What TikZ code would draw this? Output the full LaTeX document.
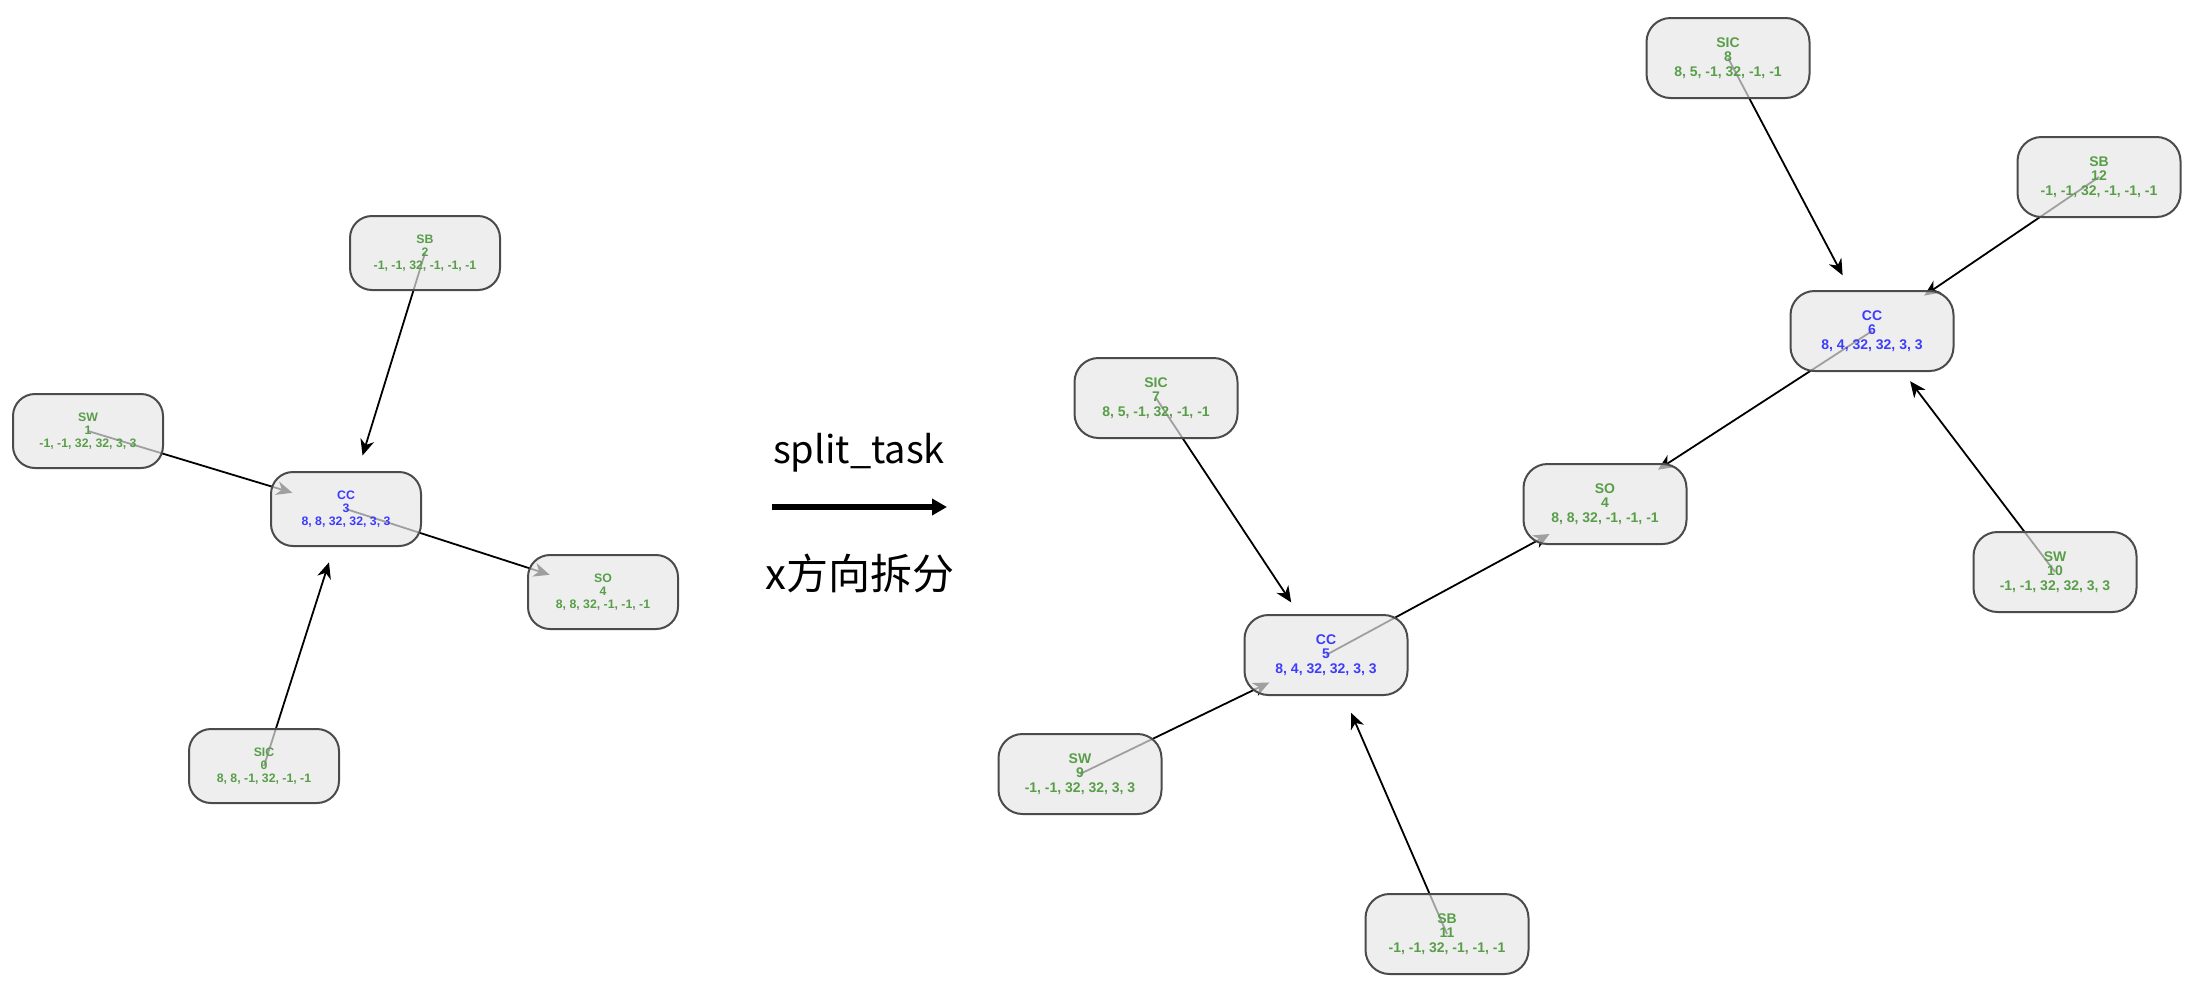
\documentclass[tikz,border=0pt]{standalone}
\usepackage{fontspec}
\setmainfont{Liberation Sans}
\newfontfamily\cjk{Noto Sans CJK SC}
\usetikzlibrary{arrows.meta}

\definecolor{boxfill}{RGB}{231,231,231}
\definecolor{boxline}{RGB}{75,75,75}
\definecolor{opgreen}{RGB}{88,158,72}
\definecolor{opblue}{RGB}{60,60,255}

\pgfdeclarelayer{edges}
\pgfsetlayers{edges,main}

\tikzset{
  opbox/.style={draw=boxline, line width=2pt, fill=boxfill, fill opacity=0.69,
    text opacity=1, align=center, inner sep=0pt},
  smallbox/.style={opbox, minimum width=150pt, minimum height=74pt,
    rounded corners=22pt, font=\bfseries\fontsize{12.3pt}{12.8pt}\selectfont},
  bigbox/.style={opbox, minimum width=163pt, minimum height=80pt,
    rounded corners=24pt, font=\bfseries\fontsize{14pt}{14.2pt}\selectfont},
  sideop/.style={text=opgreen},
  coreop/.style={text=opblue},
  link/.style={draw=black, line width=1.8pt,
    -{Stealth[length=16pt, width=14pt, inset=5pt]}},
  smalllink/.style={link, shorten >=56pt},
  biglink/.style={link, shorten >=63pt},
  caption/.style={font=\cjk, inner sep=0pt, anchor=base},
}

\begin{document}
\begin{tikzpicture}[x=1pt, y=-1pt]
\useasboundingbox (0,0) rectangle (2200,1004);

% ---- before splitting ----
\node[smallbox, sideop] (sb2)  at (425,253) {SB\\2\\-1, -1, 32, -1, -1, -1};
\node[smallbox, sideop] (sw1)  at (88,431)  {SW\\1\\-1, -1, 32, 32, 3, 3};
\node[smallbox, coreop] (cc3)  at (346,509) {CC\\3\\8, 8, 32, 32, 3, 3};
\node[smallbox, sideop] (so4)  at (603,592) {SO\\4\\8, 8, 32, -1, -1, -1};
\node[smallbox, sideop] (sic0) at (264,766) {SIC\\0\\8, 8, -1, 32, -1, -1};

% ---- transformation label ----
\node[caption, font=\cjk\fontsize{38pt}{40pt}\selectfont] (optitle) at (859,463) {split\_task};
\coordinate (opfrom) at (772,507);
\coordinate (opto) at (947,507);
\draw[line width=5.5pt, -{Triangle[length=15pt, width=16pt]}] (opfrom) -- (opto);
\node[caption, font=\cjk\fontsize{42pt}{44pt}\selectfont] (opname) at (860,589) {x方向拆分};

% ---- after splitting ----
\node[bigbox, sideop] (sic8) at (1728,58)  {SIC\\8\\8, 5, -1, 32, -1, -1};
\node[bigbox, sideop] (sb12) at (2099,177) {SB\\12\\-1, -1, 32, -1, -1, -1};
\node[bigbox, coreop] (cc6)  at (1872,331) {CC\\6\\8, 4, 32, 32, 3, 3};
\node[bigbox, sideop] (sic7) at (1156,398) {SIC\\7\\8, 5, -1, 32, -1, -1};
\node[bigbox, sideop] (so4r) at (1605,504) {SO\\4\\8, 8, 32, -1, -1, -1};
\node[bigbox, sideop] (sw10) at (2055,572) {SW\\10\\-1, -1, 32, 32, 3, 3};
\node[bigbox, coreop] (cc5)  at (1326,655) {CC\\5\\8, 4, 32, 32, 3, 3};
\node[bigbox, sideop] (sw9)  at (1080,774) {SW\\9\\-1, -1, 32, 32, 3, 3};
\node[bigbox, sideop] (sb11) at (1447,934) {SB\\11\\-1, -1, 32, -1, -1, -1};

% ---- connectors, drawn beneath the translucent boxes ----
\begin{pgfonlayer}{edges}
  \draw[smalllink] (sb2.center)  -- (cc3.center);
  \draw[smalllink] (sw1.center)  -- (cc3.center);
  \draw[smalllink] (cc3.center)  -- (so4.center);
  \draw[smalllink] (sic0.center) -- (cc3.center);

  \draw[biglink] (sic8.center) -- (cc6.center);
  \draw[biglink] (sb12.center) -- (cc6.center);
  \draw[biglink] (sw10.center) -- (cc6.center);
  \draw[biglink] (cc6.center)  -- (so4r.center);
  \draw[biglink] (sic7.center) -- (cc5.center);
  \draw[biglink] (sw9.center)  -- (cc5.center);
  \draw[biglink] (sb11.center) -- (cc5.center);
  \draw[biglink] (cc5.center)  -- (so4r.center);
\end{pgfonlayer}
\end{tikzpicture}
\end{document}
